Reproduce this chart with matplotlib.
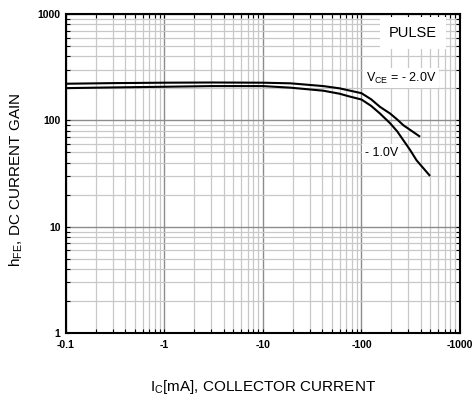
import matplotlib
matplotlib.use('Agg')
import matplotlib.pyplot as plt
import numpy as np
from matplotlib.ticker import FixedLocator, FixedFormatter, LogLocator, NullFormatter

plt.rcParams['font.family'] = ['Liberation Sans', 'DejaVu Sans']

# (|Ic| in mA, hFE)
ic_2v = [0.1, 0.3, 1, 3, 10, 19, 41, 60, 75, 100, 125, 154, 195, 230, 266, 320, 386]
hfe_2v = [221, 224, 226, 227, 226, 223, 210, 200, 191, 180, 158, 134, 116, 102, 90, 80, 71]

ic_1v = [0.1, 0.3, 1, 3, 10, 19, 41, 60, 75, 100, 125, 154, 195, 230, 266, 310, 363, 489]
hfe_1v = [201, 204, 207, 210, 210, 203, 190, 178, 168, 157, 137, 116, 94, 79, 65, 53, 42, 30.5]

xticks = [0.1, 1, 10, 100, 1000]
xticklabels = ['-0.1', '-1', '-10', '-100', '-1000']
yticks = [1, 10, 100, 1000]
yticklabels = ['1', '10', '100', '1000']

fig = plt.figure(figsize=(4.73, 4.01), dpi=100)
ax = fig.add_axes([0.1395, 0.1696, 0.833, 0.7954])

ax.set_xscale('log')
ax.set_yscale('log')
ax.set_xlim(0.1, 1000)
ax.set_ylim(1, 1000)

ax.plot(ic_2v, hfe_2v, color='black', lw=1.5, zorder=5)
ax.plot(ic_1v, hfe_1v, color='black', lw=1.5, zorder=5)

ax.xaxis.set_major_locator(FixedLocator(xticks))
ax.xaxis.set_major_formatter(FixedFormatter(xticklabels))
ax.yaxis.set_major_locator(FixedLocator(yticks))
ax.yaxis.set_major_formatter(FixedFormatter(yticklabels))
ax.xaxis.set_minor_locator(LogLocator(base=10, subs=np.arange(2, 10)))
ax.yaxis.set_minor_locator(LogLocator(base=10, subs=np.arange(2, 10)))
ax.xaxis.set_minor_formatter(NullFormatter())
ax.yaxis.set_minor_formatter(NullFormatter())

ax.grid(which='major', color='#8c8c8c', lw=1.0)
ax.grid(which='minor', color='#c8c8c8', lw=0.9)
ax.set_axisbelow(True)

ax.tick_params(which='both', direction='in', top=True, right=True, length=3, width=0.8)
ax.tick_params(axis='x', which='major', labelsize=7.5, pad=5)
ax.tick_params(axis='y', which='major', labelsize=7.5, pad=4)
for lab in ax.get_xticklabels() + ax.get_yticklabels():
    lab.set_fontweight('bold')

for s in ax.spines.values():
    s.set_linewidth(1.5)

bbox = dict(facecolor='white', edgecolor='none', pad=2)
ax.text(0.881, 0.940, 'PULSE', transform=ax.transAxes, fontsize=10.5, ha='center', va='center',
        bbox=dict(facecolor='white', edgecolor='none', boxstyle='square,pad=0.6'), zorder=4)
ax.text(0.761, 0.799, r'V$_{\mathregular{CE}}$ = - 2.0V', transform=ax.transAxes,
        fontsize=9, ha='left', va='center', bbox=bbox, zorder=4)
ax.text(0.759, 0.564, '- 1.0V', transform=ax.transAxes,
        fontsize=9, ha='left', va='center', bbox=bbox, zorder=4)

ax.set_xlabel(r'I$_{\mathregular{C}}$[mA], COLLECTOR CURRENT', fontsize=11, labelpad=20)
ax.set_ylabel(r'h$_{\mathregular{FE}}$, DC CURRENT GAIN', fontsize=11, labelpad=9)
ax.yaxis.label.set_y(0.48)

fig.savefig('out.png', dpi=100)
